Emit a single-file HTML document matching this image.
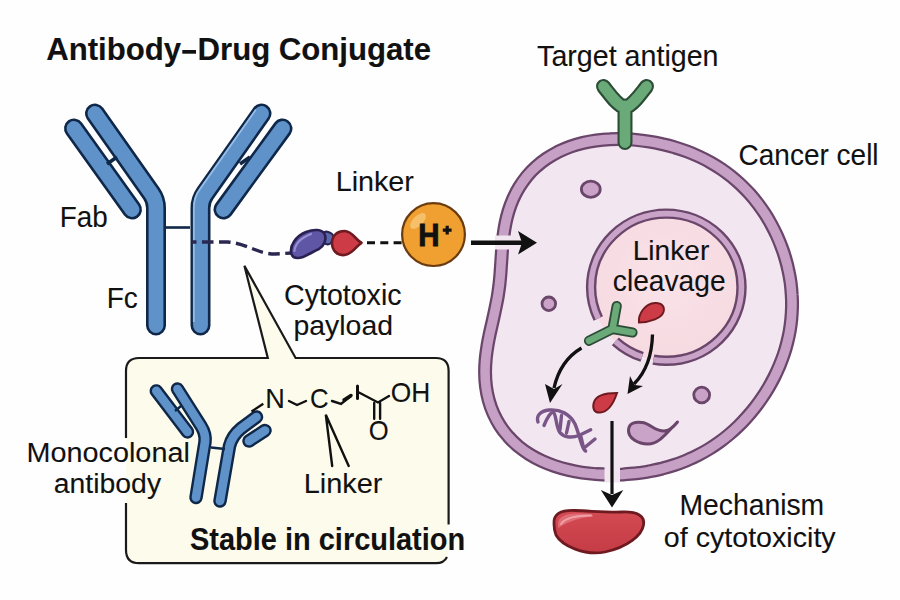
<!DOCTYPE html>
<html><head><meta charset="utf-8"><style>
html,body{margin:0;padding:0;background:#fefefe;}
svg{display:block;}
text{font-family:"Liberation Sans",sans-serif;fill:#111111;stroke:#111;stroke-width:0.1px;}
</style></head><body>
<svg width="900" height="600" viewBox="0 0 900 600">
<rect width="900" height="600" fill="#fefefe"/>
<text x="46.2" y="60.0" font-size="30.7" font-weight="bold" style="stroke-width:0.1px" textLength="135.0" lengthAdjust="spacingAndGlyphs">Antibody</text>
<text x="197.6" y="60.0" font-size="30.7" font-weight="bold" style="stroke-width:0.1px" textLength="72.8" lengthAdjust="spacingAndGlyphs">Drug</text>
<text x="278.7" y="60.0" font-size="30.7" font-weight="bold" style="stroke-width:0.1px" textLength="152.4" lengthAdjust="spacingAndGlyphs">Conjugate</text>
<rect x="182.3" y="50" width="13.7" height="3.7" fill="#111"/>
<path d="M95,113.5 L151.4,193.5 Q156,200 156,208 L156,325.5" fill="none" stroke="#0f2748" stroke-width="20.0" stroke-linecap="round" stroke-linejoin="round"/><path d="M95,113.5 L151.4,193.5 Q156,200 156,208 L156,325.5" fill="none" stroke="#5e92c9" stroke-width="14.8" stroke-linecap="round" stroke-linejoin="round"/>
<path d="M74,128.5 L132,209.5" fill="none" stroke="#0f2748" stroke-width="20.0" stroke-linecap="round" stroke-linejoin="round"/><path d="M74,128.5 L132,209.5" fill="none" stroke="#5e92c9" stroke-width="14.8" stroke-linecap="round" stroke-linejoin="round"/>
<path d="M261.5,113.5 L205.1,193.5 Q200.5,200 200.5,208 L200.5,325.5" fill="none" stroke="#0f2748" stroke-width="20.0" stroke-linecap="round" stroke-linejoin="round"/><path d="M261.5,113.5 L205.1,193.5 Q200.5,200 200.5,208 L200.5,325.5" fill="none" stroke="#5e92c9" stroke-width="14.8" stroke-linecap="round" stroke-linejoin="round"/>
<path d="M282.5,128.5 L223.5,209.5" fill="none" stroke="#0f2748" stroke-width="20.0" stroke-linecap="round" stroke-linejoin="round"/><path d="M282.5,128.5 L223.5,209.5" fill="none" stroke="#5e92c9" stroke-width="14.8" stroke-linecap="round" stroke-linejoin="round"/>
<path d="M255.9,109.6 L199.5,189.6 Q193.9,197 193.8,208 L193.8,322" fill="none" stroke="#9dc3ec" stroke-width="1.8" opacity="0.9"/>
<path d="M107,164 L117,157 M250,157 L240,164" stroke="#0f2748" stroke-width="3.6"/>
<path d="M166,227.5 L190,227.5" stroke="#0f2748" stroke-width="2.6"/>
<path d="M192,242 L228,242 C248,244 258,254 275,254 L292,253" fill="none" stroke="#2a2850" stroke-width="3.4" stroke-dasharray="11.5,5.5" stroke-dashoffset="7"/>
<rect x="321" y="232" width="12" height="12" rx="5" transform="rotate(20 327 238)" fill="#5a69ad" stroke="#2a2456" stroke-width="2.2"/>
<path d="M291.5,254 C289,246 296,236 306,232 C314,229 322,229 324.5,234 C327,239 324,246 319,249 C314,251 310,254 303,257 C297,259 293,258 291.5,254 Z" fill="#6056a6" stroke="#2a2152" stroke-width="2.6" stroke-linejoin="round"/>
<path d="M294.5,251 C295,244 301,238 311,234" fill="none" stroke="#9590d2" stroke-width="2.2" stroke-linecap="round"/>
<path d="M361.5,242.8 C356,246 353,254 344.5,255 C337,256 332,250 332,243 C332,235 338,231 344.5,231 C352.5,231 355.5,240 361.5,242.8 Z" fill="#cd3c46" stroke="#6e1a20" stroke-width="2.6" stroke-linejoin="round"/>
<path d="M367,242.7 L402,242.7" stroke="#111" stroke-width="3.1" stroke-dasharray="8,5.3"/>
<path d="M495.4,308.4 C496.2,304.5 497.0,300.6 497.7,296.7 C498.3,292.7 498.9,288.8 499.4,284.9 C499.8,281.0 500.2,277.1 500.5,273.1 C500.8,269.1 501.0,265.1 501.3,261.1 C501.6,257.0 501.8,252.9 502.1,248.8 C502.5,244.7 502.8,240.5 503.4,236.3 C503.9,232.0 504.6,227.8 505.4,223.6 C506.3,219.3 507.3,215.1 508.6,210.9 C509.9,206.8 511.4,202.6 513.2,198.6 C515.0,194.6 517.0,190.7 519.3,187.0 C521.6,183.3 524.2,179.7 526.9,176.3 C529.7,172.9 532.8,169.7 536.1,166.8 C539.3,163.8 542.8,161.1 546.5,158.6 C550.1,156.2 554.0,153.9 557.9,151.9 C561.9,150.0 566.0,148.2 570.2,146.7 C574.4,145.2 578.7,144.0 583.1,142.9 C587.4,141.9 591.9,141.1 596.3,140.5 C600.7,139.9 605.2,139.5 609.7,139.3 C614.1,139.0 618.6,139.0 623.1,139.1 C627.5,139.2 631.9,139.5 636.3,139.9 C640.7,140.3 645.1,140.9 649.5,141.6 C653.8,142.2 658.1,143.1 662.3,144.1 C666.6,145.0 670.8,146.1 674.9,147.4 C679.1,148.6 683.2,150.0 687.2,151.5 C691.2,153.0 695.1,154.7 699.0,156.5 C702.9,158.3 706.7,160.2 710.4,162.3 C714.1,164.4 717.7,166.6 721.2,169.0 C724.7,171.4 728.1,173.9 731.4,176.5 C734.7,179.2 737.8,181.9 740.9,184.8 C743.9,187.7 746.9,190.7 749.7,193.8 C752.5,196.9 755.1,200.1 757.7,203.5 C760.2,206.8 762.6,210.2 764.9,213.7 C767.1,217.1 769.2,220.7 771.2,224.3 C773.2,228.0 775.1,231.7 776.8,235.4 C778.5,239.2 780.1,243.0 781.5,246.9 C783.0,250.7 784.3,254.6 785.4,258.6 C786.6,262.5 787.6,266.5 788.4,270.5 C789.3,274.5 790.0,278.5 790.6,282.5 C791.1,286.6 791.5,290.6 791.7,294.7 C792.0,298.7 792.1,302.8 792.0,306.9 C791.9,310.9 791.7,315.0 791.3,319.0 C790.9,323.1 790.4,327.1 789.7,331.1 C789.0,335.0 788.1,339.0 787.1,342.9 C786.1,346.9 785.0,350.7 783.7,354.6 C782.4,358.4 780.9,362.2 779.4,365.9 C777.8,369.7 776.1,373.4 774.3,377.0 C772.5,380.6 770.5,384.2 768.5,387.7 C766.4,391.2 764.2,394.7 761.9,398.0 C759.6,401.4 757.2,404.7 754.7,407.9 C752.2,411.1 749.5,414.3 746.8,417.3 C744.1,420.4 741.2,423.4 738.3,426.2 C735.3,429.1 732.2,431.9 729.1,434.5 C725.9,437.2 722.6,439.8 719.2,442.2 C715.9,444.6 712.4,446.9 708.8,449.1 C705.2,451.3 701.6,453.3 697.8,455.3 C694.1,457.2 690.2,458.9 686.3,460.6 C682.4,462.2 678.4,463.7 674.3,465.0 C670.3,466.3 666.1,467.5 662.0,468.6 C657.8,469.6 653.5,470.6 649.2,471.3 C644.9,472.1 640.6,472.7 636.2,473.3 C631.8,473.8 627.4,474.1 622.9,474.4 C618.4,474.6 613.9,474.7 609.4,474.7 C604.9,474.6 600.3,474.4 595.7,474.1 C591.2,473.7 586.6,473.2 582.0,472.6 C577.4,471.9 572.8,471.0 568.3,469.9 C563.8,468.9 559.2,467.6 554.8,466.1 C550.4,464.6 546.0,462.9 541.7,460.9 C537.5,458.9 533.4,456.7 529.4,454.2 C525.5,451.8 521.7,449.0 518.1,446.1 C514.6,443.1 511.2,439.9 508.2,436.4 C505.1,433.0 502.3,429.3 499.8,425.4 C497.3,421.5 495.2,417.4 493.3,413.2 C491.4,409.0 489.9,404.6 488.7,400.2 C487.5,395.7 486.6,391.2 486.0,386.6 C485.4,382.0 485.1,377.4 485.1,372.8 C485.0,368.2 485.3,363.6 485.7,359.1 C486.1,354.6 486.8,350.1 487.5,345.7 C488.2,341.3 489.1,337.0 490.0,332.8 C490.9,328.6 491.9,324.5 492.8,320.4 C493.7,316.4 494.6,312.4 495.4,308.4Z" fill="#f2e6f0" stroke="#6a466a" stroke-width="14"/>
<path d="M495.4,308.4 C496.2,304.5 497.0,300.6 497.7,296.7 C498.3,292.7 498.9,288.8 499.4,284.9 C499.8,281.0 500.2,277.1 500.5,273.1 C500.8,269.1 501.0,265.1 501.3,261.1 C501.6,257.0 501.8,252.9 502.1,248.8 C502.5,244.7 502.8,240.5 503.4,236.3 C503.9,232.0 504.6,227.8 505.4,223.6 C506.3,219.3 507.3,215.1 508.6,210.9 C509.9,206.8 511.4,202.6 513.2,198.6 C515.0,194.6 517.0,190.7 519.3,187.0 C521.6,183.3 524.2,179.7 526.9,176.3 C529.7,172.9 532.8,169.7 536.1,166.8 C539.3,163.8 542.8,161.1 546.5,158.6 C550.1,156.2 554.0,153.9 557.9,151.9 C561.9,150.0 566.0,148.2 570.2,146.7 C574.4,145.2 578.7,144.0 583.1,142.9 C587.4,141.9 591.9,141.1 596.3,140.5 C600.7,139.9 605.2,139.5 609.7,139.3 C614.1,139.0 618.6,139.0 623.1,139.1 C627.5,139.2 631.9,139.5 636.3,139.9 C640.7,140.3 645.1,140.9 649.5,141.6 C653.8,142.2 658.1,143.1 662.3,144.1 C666.6,145.0 670.8,146.1 674.9,147.4 C679.1,148.6 683.2,150.0 687.2,151.5 C691.2,153.0 695.1,154.7 699.0,156.5 C702.9,158.3 706.7,160.2 710.4,162.3 C714.1,164.4 717.7,166.6 721.2,169.0 C724.7,171.4 728.1,173.9 731.4,176.5 C734.7,179.2 737.8,181.9 740.9,184.8 C743.9,187.7 746.9,190.7 749.7,193.8 C752.5,196.9 755.1,200.1 757.7,203.5 C760.2,206.8 762.6,210.2 764.9,213.7 C767.1,217.1 769.2,220.7 771.2,224.3 C773.2,228.0 775.1,231.7 776.8,235.4 C778.5,239.2 780.1,243.0 781.5,246.9 C783.0,250.7 784.3,254.6 785.4,258.6 C786.6,262.5 787.6,266.5 788.4,270.5 C789.3,274.5 790.0,278.5 790.6,282.5 C791.1,286.6 791.5,290.6 791.7,294.7 C792.0,298.7 792.1,302.8 792.0,306.9 C791.9,310.9 791.7,315.0 791.3,319.0 C790.9,323.1 790.4,327.1 789.7,331.1 C789.0,335.0 788.1,339.0 787.1,342.9 C786.1,346.9 785.0,350.7 783.7,354.6 C782.4,358.4 780.9,362.2 779.4,365.9 C777.8,369.7 776.1,373.4 774.3,377.0 C772.5,380.6 770.5,384.2 768.5,387.7 C766.4,391.2 764.2,394.7 761.9,398.0 C759.6,401.4 757.2,404.7 754.7,407.9 C752.2,411.1 749.5,414.3 746.8,417.3 C744.1,420.4 741.2,423.4 738.3,426.2 C735.3,429.1 732.2,431.9 729.1,434.5 C725.9,437.2 722.6,439.8 719.2,442.2 C715.9,444.6 712.4,446.9 708.8,449.1 C705.2,451.3 701.6,453.3 697.8,455.3 C694.1,457.2 690.2,458.9 686.3,460.6 C682.4,462.2 678.4,463.7 674.3,465.0 C670.3,466.3 666.1,467.5 662.0,468.6 C657.8,469.6 653.5,470.6 649.2,471.3 C644.9,472.1 640.6,472.7 636.2,473.3 C631.8,473.8 627.4,474.1 622.9,474.4 C618.4,474.6 613.9,474.7 609.4,474.7 C604.9,474.6 600.3,474.4 595.7,474.1 C591.2,473.7 586.6,473.2 582.0,472.6 C577.4,471.9 572.8,471.0 568.3,469.9 C563.8,468.9 559.2,467.6 554.8,466.1 C550.4,464.6 546.0,462.9 541.7,460.9 C537.5,458.9 533.4,456.7 529.4,454.2 C525.5,451.8 521.7,449.0 518.1,446.1 C514.6,443.1 511.2,439.9 508.2,436.4 C505.1,433.0 502.3,429.3 499.8,425.4 C497.3,421.5 495.2,417.4 493.3,413.2 C491.4,409.0 489.9,404.6 488.7,400.2 C487.5,395.7 486.6,391.2 486.0,386.6 C485.4,382.0 485.1,377.4 485.1,372.8 C485.0,368.2 485.3,363.6 485.7,359.1 C486.1,354.6 486.8,350.1 487.5,345.7 C488.2,341.3 489.1,337.0 490.0,332.8 C490.9,328.6 491.9,324.5 492.8,320.4 C493.7,316.4 494.6,312.4 495.4,308.4Z" fill="none" stroke="#c6a0c5" stroke-width="9.5"/>
<rect x="495" y="235.5" width="16" height="14" fill="#f2e6f0"/>
<rect x="604.5" y="461" width="15.5" height="21.5" fill="#f2e6f0"/>
<ellipse cx="590.8" cy="189.2" rx="9.4" ry="8.1" fill="#caa2c8" stroke="#6a466a" stroke-width="2.8"/>
<ellipse cx="548.8" cy="303.8" rx="6.8" ry="6.8" fill="#caa2c8" stroke="#6a466a" stroke-width="2.8"/>
<ellipse cx="701.7" cy="395.0" rx="7.9" ry="7.9" fill="#caa2c8" stroke="#6a466a" stroke-width="2.8"/>
<defs><radialGradient id="ng" cx="0.5" cy="0.45" r="0.6"><stop offset="0" stop-color="#f9e3e8"/><stop offset="1" stop-color="#f6d9e0"/></radialGradient></defs>
<ellipse cx="666.3" cy="287.2" rx="75.2" ry="73.6" fill="url(#ng)"/>
<ellipse cx="666.3" cy="287.2" rx="75.2" ry="73.6" fill="none" stroke="#6a466a" stroke-width="10.4" stroke-dasharray="100 9 24 22 205" pathLength="360"/>
<ellipse cx="666.3" cy="287.2" rx="75.2" ry="73.6" fill="none" stroke="#c9a3c8" stroke-width="5.6" stroke-dasharray="100 9 24 22 205" pathLength="360"/>
<path d="M625,142.5 L625,106 M603.5,86.5 C611,96 617,105 625,108 C633,105 639,96 646.5,86.5" fill="none" stroke="#2c4c36" stroke-width="15" stroke-linecap="round" stroke-linejoin="round"/>
<path d="M625,142.5 L625,106 M603.5,86.5 C611,96 617,105 625,108 C633,105 639,96 646.5,86.5" fill="none" stroke="#6aa978" stroke-width="10.8" stroke-linecap="round" stroke-linejoin="round"/>
<circle cx="433.5" cy="234.6" r="31.4" fill="#f0a031" stroke="#6b3c10" stroke-width="2.2"/>
<ellipse cx="418" cy="221" rx="5" ry="10" transform="rotate(45 418 221)" fill="#f7c675" opacity="0.85"/>
<text x="418.3" y="245.6" font-size="31.0" font-weight="bold" style="stroke-width:0.9px" textLength="21.3" lengthAdjust="spacingAndGlyphs">H</text>
<path d="M447.2,225.8 L447.2,234.6 M442.8,230.2 L451.6,230.2" stroke="#111" stroke-width="3.2"/>
<path d="M471,242.8 L524,242.8" stroke="#111" stroke-width="4.4"/>
<path d="M537,242.8 L518,231 L522,242.8 L518,254.5 Z" fill="#111"/>
<path d="M598,300 L624,330" stroke="url(#ng)" stroke-width="0"/>
<path d="M616.7,306 L612.5,329 M632.5,332.5 L612.5,329 L589,340.8" fill="none" stroke="#2c4c36" stroke-width="10.2" stroke-linecap="round" stroke-linejoin="round"/>
<path d="M616.7,306 L612.5,329 M632.5,332.5 L612.5,329 L589,340.8" fill="none" stroke="#6aa978" stroke-width="6.6" stroke-linecap="round" stroke-linejoin="round"/>
<path d="M639,322.5 C638,314 645,303.5 655,303 C662,302.5 665,307 663.5,312 C661.5,318 651,322 639,322.5 Z" fill="#cd3c46" stroke="#6e1a20" stroke-width="2"/>
<path d="M617,393 C614,402 609,412 600,412.5 C594,413 592,408 594,402 C596,396 605,393 617,393 Z" fill="#cd3c46" stroke="#6e1a20" stroke-width="2"/>
<path d="M581.5,348 C568,356 558,370 554,388" fill="none" stroke="#111" stroke-width="3.3"/>
<path d="M550,403 L545,384 L554,389 L562.5,384 Z" fill="#111"/>
<path d="M652.5,334.5 C652,355 646,372 634,384" fill="none" stroke="#111" stroke-width="3.3"/>
<path d="M627.5,394 L630,376 L634.5,385 L643,386 Z" fill="#111"/>
<g fill="none" stroke="#7a5588" stroke-width="3.4" stroke-linecap="round"><path d="M538,422 C536,416 540,411 549,410 C560,409 570,414 575,424 C578,431 580,440 582,445 C583,448 584,450 585.6,451"/><path d="M544,425.5 C547,418 551,411.5 553.5,412.5 C556,414 556,426 559.5,432 C563,437 571,438.5 579,435.5 L590.7,429.7"/><path d="M561.5,415.5 L560,429.5 M569,421.5 L566.5,433 M581,437 L583,445.5 M595,439 L584.7,447.5"/></g>
<path d="M677.5,422 C668,431 660,444 648,444 C638,444 628,438 628.5,430 C629,422 636,422 642,422.5 C650,423 654,431 664,431 C670,431 674,426 677.5,422 Z" fill="#c9a3c8" stroke="#6a466a" stroke-width="3" stroke-linejoin="round"/>
<path d="M612,421 L612,494" stroke="#111" stroke-width="3.2"/>
<path d="M612,507.5 L600.8,490 L612,495 L623.3,490 Z" fill="#111"/>
<defs><linearGradient id="bg1" x1="0" y1="0" x2="0" y2="1"><stop offset="0" stop-color="#d44a53"/><stop offset="1" stop-color="#c43c46"/></linearGradient></defs>
<path d="M554,524 C553,514 560,510 575,510.5 C592,511 605,512.5 622,512 C638,511.5 645,516 643.5,525 C642,535 628,547 605,552 C585,556 562,546 556,535 C554.5,531 554,527 554,524 Z" fill="url(#bg1)" stroke="#6e1a20" stroke-width="2.8"/>
<path d="M558.5,528 C556,518 563,513.5 578,513.5 C588,513.5 594,514 593,516.5 C584,517 568,521 558.5,528 Z" fill="#df6b74"/>
<path d="M561,524 C565,518 575,515.5 591,515.5" fill="none" stroke="#eea0a6" stroke-width="2" stroke-linecap="round"/>
<path d="M139,358 L267.8,358 L244.4,265.7 L295.6,358 L436,358 Q448.6,358 448.6,371 L448.6,550 Q448.6,563.2 436,563.2 L139,563.2 Q126,563.2 126,550 L126,371 Q126,358 139,358 Z" fill="#fdfcec"/>
<path d="M447,557 Q444,563.2 436,563.2 L139,563.2 Q126,563.2 126,550 L126,503 M126,438 L126,371 Q126,358 139,358 L267.8,358 L244.4,265.7 L295.6,358 L436,358 Q448.6,358 448.6,371 L448.6,524.5" fill="none" stroke="#1a1a1a" stroke-width="2.2" stroke-linejoin="miter"/>
<path d="M156.3,390.9 L187.5,431.9" fill="none" stroke="#0f2748" stroke-width="13.5" stroke-linecap="round" stroke-linejoin="round"/><path d="M156.3,390.9 L187.5,431.9" fill="none" stroke="#5e92c9" stroke-width="8.7" stroke-linecap="round" stroke-linejoin="round"/>
<path d="M177.5,389 L201,426 Q206,434 205,442 L196,497.5" fill="none" stroke="#0f2748" stroke-width="13.5" stroke-linecap="round" stroke-linejoin="round"/><path d="M177.5,389 L201,426 Q206,434 205,442 L196,497.5" fill="none" stroke="#5e92c9" stroke-width="8.7" stroke-linecap="round" stroke-linejoin="round"/>
<path d="M220,501 L229.5,446 Q232,436 241,428.5 L256.5,417" fill="none" stroke="#0f2748" stroke-width="13.5" stroke-linecap="round" stroke-linejoin="round"/><path d="M220,501 L229.5,446 Q232,436 241,428.5 L256.5,417" fill="none" stroke="#5e92c9" stroke-width="8.7" stroke-linecap="round" stroke-linejoin="round"/>
<path d="M249,441 L265,430.5" fill="none" stroke="#0f2748" stroke-width="13.5" stroke-linecap="round" stroke-linejoin="round"/><path d="M249,441 L265,430.5" fill="none" stroke="#5e92c9" stroke-width="8.7" stroke-linecap="round" stroke-linejoin="round"/>
<path d="M211,447.5 L225,449 M175,411 L181,406" stroke="#0f2748" stroke-width="2.4"/>
<path d="M251.5,411.5 L263.3,403.8" stroke="#111" stroke-width="2.4"/>
<text x="265.3" y="408.4" font-size="27.8" textLength="19.6" lengthAdjust="spacingAndGlyphs">N</text>
<text x="309.9" y="408.4" font-size="27.8" textLength="18.6" lengthAdjust="spacingAndGlyphs">C</text>
<text x="368.8" y="440.0" font-size="27.6" textLength="19.9" lengthAdjust="spacingAndGlyphs">O</text>
<text x="390.7" y="402.0" font-size="27.6" textLength="39.5" lengthAdjust="spacingAndGlyphs">OH</text>
<g fill="none" stroke="#111" stroke-width="2.4" stroke-linecap="round"><path d="M289,401 L297,405 L306,401"/><path d="M332,401 L341,404 L351,396"/><path d="M357.5,386 L357.5,398.5" stroke-width="3"/><path d="M359,392.5 L378,402.5 L389,396"/><path d="M374.2,403 L374.2,418.7 M380.1,403 L380.1,418.7"/><path d="M332.2,466 L325.8,414.7 L348.7,466"/></g>
<path d="M344,400 L351,395.5" stroke="#111" stroke-width="3.4" stroke-linecap="round"/>
<text x="537.1" y="65.8" font-size="29.4" textLength="181.4" lengthAdjust="spacingAndGlyphs">Target antigen</text>
<text x="738.6" y="165.3" font-size="29.1" textLength="140.0" lengthAdjust="spacingAndGlyphs">Cancer cell</text>
<text x="335.7" y="190.5" font-size="28.3" textLength="78.2" lengthAdjust="spacingAndGlyphs">Linker</text>
<text x="59.7" y="226.5" font-size="29.1" textLength="48.0" lengthAdjust="spacingAndGlyphs">Fab</text>
<text x="106.7" y="307.8" font-size="29.1" textLength="31.1" lengthAdjust="spacingAndGlyphs">Fc</text>
<text x="284.1" y="305.0" font-size="28.8" textLength="117.4" lengthAdjust="spacingAndGlyphs">Cytotoxic</text>
<text x="293.5" y="334.9" font-size="27.8" textLength="99.5" lengthAdjust="spacingAndGlyphs">payload</text>
<text x="632.7" y="260.2" font-size="27.6" textLength="76.7" lengthAdjust="spacingAndGlyphs">Linker</text>
<text x="612.8" y="291.0" font-size="29.1" textLength="112.8" lengthAdjust="spacingAndGlyphs">cleavage</text>
<text x="26.6" y="462.4" font-size="28.2" textLength="163.2" lengthAdjust="spacingAndGlyphs">Monocolonal</text>
<text x="53.8" y="493.0" font-size="28.2" textLength="107.3" lengthAdjust="spacingAndGlyphs">antibody</text>
<text x="303.7" y="492.8" font-size="28.3" textLength="78.8" lengthAdjust="spacingAndGlyphs">Linker</text>
<text x="190.0" y="550.0" font-size="31.1" font-weight="bold" style="stroke-width:0.1px" textLength="275.2" lengthAdjust="spacingAndGlyphs">Stable in circulation</text>
<text x="679.4" y="515.0" font-size="29.1" textLength="144.8" lengthAdjust="spacingAndGlyphs">Mechanism</text>
<text x="663.8" y="546.7" font-size="28.3" textLength="171.9" lengthAdjust="spacingAndGlyphs">of cytotoxicity</text>
</svg></body></html>
